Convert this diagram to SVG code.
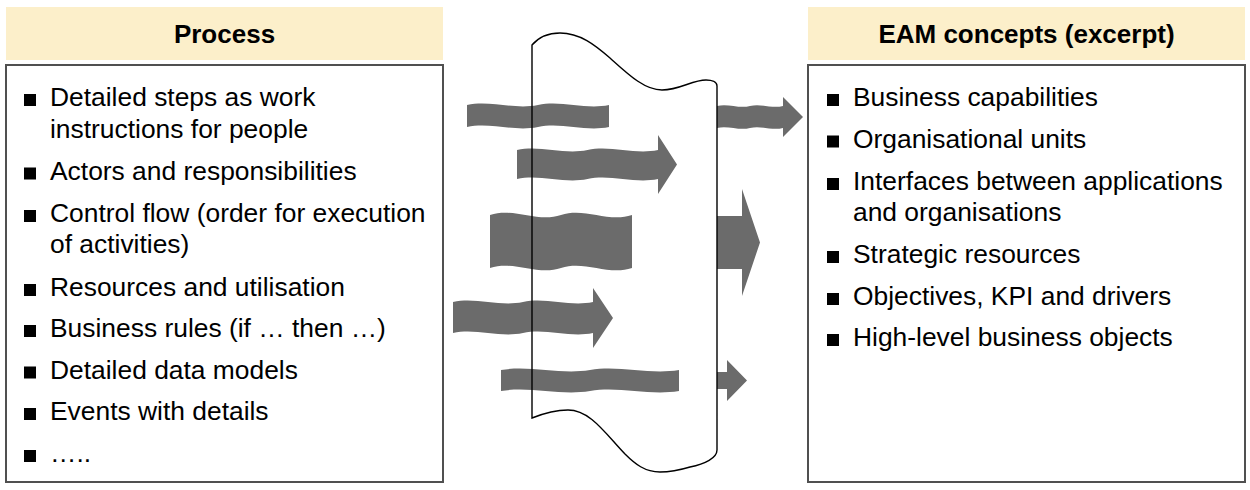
<svg xmlns="http://www.w3.org/2000/svg" width="1250" height="490" viewBox="0 0 1250 490">
<style>
.hdr{fill:#fcefca;stroke:none}
.box{fill:#fff;stroke:#505050;stroke-width:2}
.ht{font-family:"Liberation Sans",Arial,Helvetica,sans-serif;font-weight:bold;font-size:26px;fill:#000;text-anchor:middle}
.t{font-family:"Liberation Sans",Arial,Helvetica,sans-serif;font-size:26.4px;fill:#000}
.b{fill:#000}
.arr{fill:#6b6b6b;stroke:none}
.scroll{stroke:#000;stroke-width:1.4}
</style>
<rect width="1250" height="490" fill="#fff"/>

<g id="process">
<rect class="hdr" x="6" y="7" width="437" height="53"/>
<text class="ht" x="224.5" y="43">Process</text>
<rect class="box" x="6" y="65" width="437" height="417"/>
<rect class="b" x="24" y="94" width="12" height="12"/>
<text class="t" x="50" y="106">Detailed steps as work</text>
<text class="t" x="50" y="137.5">instructions for people</text>
<rect class="b" x="24" y="167.5" width="12" height="12"/>
<text class="t" x="50" y="179.5">Actors and responsibilities</text>
<rect class="b" x="24" y="210" width="12" height="12"/>
<text class="t" x="50" y="222">Control flow (order for execution</text>
<text class="t" x="50" y="252.5">of activities)</text>
<rect class="b" x="24" y="284" width="12" height="12"/>
<text class="t" x="50" y="296">Resources and utilisation</text>
<rect class="b" x="24" y="325" width="12" height="12"/>
<text class="t" x="50" y="337">Business rules (if … then …)</text>
<rect class="b" x="24" y="366.5" width="12" height="12"/>
<text class="t" x="50" y="378.5">Detailed data models</text>
<rect class="b" x="24" y="408" width="12" height="12"/>
<text class="t" x="50" y="420">Events with details</text>
<rect class="b" x="24" y="450" width="12" height="12"/>
<text class="t" x="50" y="462">…..</text>
</g>

<g id="eam">
<rect class="hdr" x="808" y="7" width="437" height="53"/>
<text class="ht" x="1026.5" y="43">EAM concepts (excerpt)</text>
<rect class="box" x="808" y="65" width="437" height="417"/>
<rect class="b" x="827" y="94" width="12" height="12"/>
<text class="t" x="853" y="106">Business capabilities</text>
<rect class="b" x="827" y="135.5" width="12" height="12"/>
<text class="t" x="853" y="147.5">Organisational units</text>
<rect class="b" x="827" y="178" width="12" height="12"/>
<text class="t" x="853" y="190">Interfaces between applications</text>
<text class="t" x="853" y="221">and organisations</text>
<rect class="b" x="827" y="251" width="12" height="12"/>
<text class="t" x="853" y="263">Strategic resources</text>
<rect class="b" x="827" y="293" width="12" height="12"/>
<text class="t" x="853" y="305">Objectives, KPI and drivers</text>
<rect class="b" x="827" y="334" width="12" height="12"/>
<text class="t" x="853" y="346">High-level business objects</text>
</g>

<g id="transformation">
<path id="scroll-fill" fill="#fff" stroke="none" d="M532,45 C538,38 548,33 560,33 C580,33 595,45 610,58 C630,76 645,90 662,90 C680,90 692,80 706,80 C712,80 717,82 717,86 L717,450 C717,458 705,464 690,467 C680,470 670,472 660,472 C645,472 635,464 625,454 C605,433 590,410 568,410 C555,410 542,414 532,418 Z"/>
</g>

<g id="connectors">
<path class="arr" d="M467,105 C490.7,100 514.3,110 538,105 C561.7,100 585.3,110 609,105 L609,127 C585.3,132 561.7,122 538,127 C514.3,132 490.7,122 467,127 Z"/>
<path class="arr" d="M517,150 C540.5,145 564,155 587.5,150 C611,145 634.5,155 658,150 L658,135 L677,164.5 L658,194 L658,179 C634.5,184 611,174 587.5,179 C564,184 540.5,174 517,179 Z"/>
<path class="arr" d="M490,215 C513.7,207 537.3,223 561,215 C584.7,207 608.3,223 632,215 L632,268 C608.3,276 584.7,260 561,268 C537.3,276 513.7,260 490,268 Z"/>
<path class="arr" d="M453,302 C476.3,297 499.7,307 523,302 C546.3,297 569.7,307 593,302 L593,288 L613,318 L593,348 L593,333 C569.7,338 546.3,328 523,333 C499.7,338 476.3,328 453,333 Z"/>
<path class="arr" d="M501,370 C530.7,365 560.3,375 590,370 C619.7,365 649.3,375 679,370 L679,391 C649.3,396 619.7,386 590,391 C560.3,396 530.7,386 501,391 Z"/>
<path class="arr" d="M717,106 C728,103 739,109 750,106 C761,103 772,109 783,106 L783,97 L803,117 L783,137 L783,128 C772,131 761,125 750,128 C739,131 728,125 717,128 Z"/>
<path class="arr" d="M717,216 L742,216 L742,189 L760,242.5 L742,296 L742,269 L717,269 Z"/>
<path class="arr" d="M717,372 L727,372 L727,360 L747,380.5 L727,401 L727,389 L717,389 Z"/>
</g>

<g id="transformation-outline">
<path class="scroll" fill="none" d="M532,45 C538,38 548,33 560,33 C580,33 595,45 610,58 C630,76 645,90 662,90 C680,90 692,80 706,80 C712,80 717,82 717,86 L717,450 C717,458 705,464 690,467 C680,470 670,472 660,472 C645,472 635,464 625,454 C605,433 590,410 568,410 C555,410 542,414 532,418 Z"/>
</g>
</svg>
